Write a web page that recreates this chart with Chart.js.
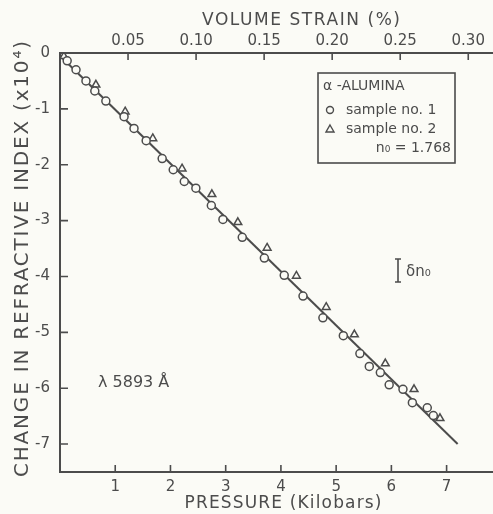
<!DOCTYPE html>
<html>
<head>
<meta charset="utf-8">
<script src="https://cdn.jsdelivr.net/npm/chart.js@4"></script>
<style>
  html, body { margin: 0; padding: 0; background: #fbfbf6; }
  #wrap { width: 493px; height: 514px; }
</style>
</head>
<body>
<div id="wrap"><canvas id="chart"></canvas></div>
<script>
// sample no. 1 (circles)
const pressure1 = [0.13, 0.29, 0.47, 0.63, 0.83, 1.16, 1.34, 1.56, 1.85, 2.05, 2.25, 2.46, 2.74, 2.95,
  3.30, 3.70, 4.06, 4.40, 4.76, 5.13, 5.43, 5.60, 5.80, 5.96, 6.21, 6.38, 6.65, 6.76];
const index1 = [-0.14, -0.30, -0.50, -0.68, -0.86, -1.14, -1.35, -1.57, -1.89, -2.09, -2.30, -2.42, -2.73, -2.98,
  -3.30, -3.67, -3.98, -4.35, -4.74, -5.06, -5.38, -5.61, -5.72, -5.94, -6.02, -6.26, -6.35, -6.49];
// sample no. 2 (triangles)
const pressure2 = [0.07, 0.65, 1.18, 1.68, 2.21, 2.75, 3.22, 3.75, 4.28, 4.82, 5.33, 5.89, 6.41, 6.88];
const index2 = [-0.06, -0.57, -1.05, -1.53, -2.07, -2.53, -3.03, -3.49, -3.99, -4.55, -5.04, -5.56, -6.02, -6.54];
// fitted line
const fitPressure = [0, 7.2];
const fitIndex = [-0.05, -7.0];

const pressureTicks = [1, 2, 3, 4, 5, 6, 7];
const indexTicks = [-7, -6, -5, -4, -3, -2, -1, 0];
const strainTicks = [0.05, 0.10, 0.15, 0.20, 0.25, 0.30];
const pressureMax = 7.84;
const strainPerKbar = 0.05 / 1.232;

const ink = '#4c4c4c';
const font = 'DejaVu Sans';

const toPts = (xs, ys) => xs.map((x, i) => ({x: x, y: ys[i]}));

// inward ticks, titles and annotations
const decor = {
  id: 'decor',
  afterDraw(chart) {
    const ctx = chart.ctx;
    const a = chart.chartArea;
    const sx = chart.scales.x, sy = chart.scales.y, st = chart.scales.x2;
    ctx.save();
    ctx.strokeStyle = ink;
    ctx.fillStyle = ink;
    ctx.lineWidth = 1.6;
    ctx.beginPath();
    pressureTicks.forEach(v => {
      const px = sx.getPixelForValue(v);
      ctx.moveTo(px, a.bottom); ctx.lineTo(px, a.bottom - 7);
    });
    strainTicks.forEach(v => {
      const px = st.getPixelForValue(v);
      ctx.moveTo(px, a.top); ctx.lineTo(px, a.top + 7);
    });
    indexTicks.forEach(v => {
      if (v === 0) return;
      const py = sy.getPixelForValue(v);
      ctx.moveTo(a.left, py); ctx.lineTo(a.left + 8, py);
    });
    ctx.stroke();

    // spaced text helper
    const spaced = (text, x, y, size, width, rot) => {
      ctx.save();
      ctx.font = size + 'px "' + font + '"';
      ctx.letterSpacing = '0px';
      const w = ctx.measureText(text).width;
      const sp = (width - w) / (text.length - 1);
      ctx.letterSpacing = sp + 'px';
      ctx.translate(x, y);
      if (rot) ctx.rotate(-Math.PI / 2);
      ctx.textAlign = 'left';
      ctx.textBaseline = 'middle';
      ctx.fillText(text, -width / 2, 0);
      ctx.restore();
    };
    spaced('VOLUME STRAIN (%)', 301, 21, 17, 198);
    spaced('PRESSURE (Kilobars)', 283, 504, 17, 197);
    spaced('CHANGE IN REFRACTIVE INDEX (x10\u2074)', 23, 259, 20, 436, true);

    // legend box
    ctx.lineWidth = 1.6;
    ctx.strokeRect(318, 73, 137, 90);
    ctx.font = '14px "' + font + '"';
    ctx.textBaseline = 'middle';
    ctx.textAlign = 'left';
    ctx.fillText('\u03b1 -ALUMINA', 323, 86);
    ctx.fillText('sample no. 1', 346, 110);
    ctx.fillText('sample no. 2', 346, 129);
    ctx.textAlign = 'right';
    ctx.fillText('n\u2080 = 1.768', 451, 148);
    ctx.lineWidth = 1.4;
    ctx.beginPath();
    ctx.arc(330, 110, 3.5, 0, Math.PI * 2);
    ctx.stroke();
    ctx.beginPath();
    ctx.moveTo(330, 125); ctx.lineTo(334, 132); ctx.lineTo(326, 132); ctx.closePath();
    ctx.stroke();

    // wavelength
    ctx.textAlign = 'left';
    ctx.font = '16px "' + font + '"';
    ctx.fillText('\u03bb 5893 \u00c5', 98, 383);

    // delta n0 bar
    ctx.lineWidth = 1.6;
    ctx.beginPath();
    ctx.moveTo(398, 259); ctx.lineTo(398, 282);
    ctx.moveTo(395, 259); ctx.lineTo(401, 259);
    ctx.moveTo(395, 282); ctx.lineTo(401, 282);
    ctx.stroke();
    ctx.font = '15px "' + font + '"';
    ctx.fillText('\u03b4n\u2080', 406, 272);
    ctx.restore();
  }
};

const tickFont = {family: font, size: 15};
const noPad = s => { s.paddingLeft = 0; s.paddingRight = 0; s.paddingTop = 0; s.paddingBottom = 0; };

new Chart('chart', {
  data: {
    datasets: [
      {
        type: 'scatter',
        label: 'sample no. 1',
        data: toPts(pressure1, index1),
        pointStyle: 'circle',
        pointRadius: 4,
        borderWidth: 1.5,
        borderColor: ink,
        backgroundColor: '#fbfbf6',
        order: 1
      },
      {
        type: 'scatter',
        label: 'sample no. 2',
        data: toPts(pressure2, index2),
        pointStyle: 'triangle',
        pointRadius: 4.5,
        borderWidth: 1.5,
        borderColor: ink,
        backgroundColor: '#fbfbf6',
        order: 2
      },
      {
        type: 'line',
        label: 'fit',
        data: toPts(fitPressure, fitIndex),
        borderColor: ink,
        borderWidth: 2,
        pointRadius: 0,
        order: 3
      }
    ]
  },
  options: {
    responsive: true,
    maintainAspectRatio: false,
    animation: false,
    layout: {padding: 0, autoPadding: false},
    plugins: {
      legend: {display: false},
      tooltip: {enabled: false}
    },
    scales: {
      x: {
        type: 'linear',
        position: 'bottom',
        min: 0,
        max: pressureMax,
        afterBuildTicks: s => { s.ticks = pressureTicks.map(v => ({value: v})); },
        afterFit: s => { s.height = 42; noPad(s); },
        grid: {display: false, drawTicks: false},
        border: {display: true, color: ink, width: 2},
        ticks: {color: ink, font: tickFont, padding: 6, maxRotation: 0}
      },
      x2: {
        type: 'linear',
        position: 'top',
        min: 0,
        max: pressureMax * strainPerKbar,
        afterBuildTicks: s => { s.ticks = strainTicks.map(v => ({value: v})); },
        afterFit: s => { s.height = 53; noPad(s); },
        grid: {display: false, drawTicks: false},
        border: {display: true, color: ink, width: 2},
        ticks: {color: ink, font: tickFont, padding: 3, maxRotation: 0,
          callback: v => v.toFixed(2)}
      },
      y: {
        type: 'linear',
        position: 'left',
        min: -7.5,
        max: 0,
        afterBuildTicks: s => { s.ticks = indexTicks.map(v => ({value: v})); },
        afterFit: s => { s.width = 60; noPad(s); },
        grid: {display: false, drawTicks: false},
        border: {display: true, color: ink, width: 2},
        ticks: {color: ink, font: tickFont, padding: 10}
      }
    }
  },
  plugins: [decor]
});
</script>
</body>
</html>
